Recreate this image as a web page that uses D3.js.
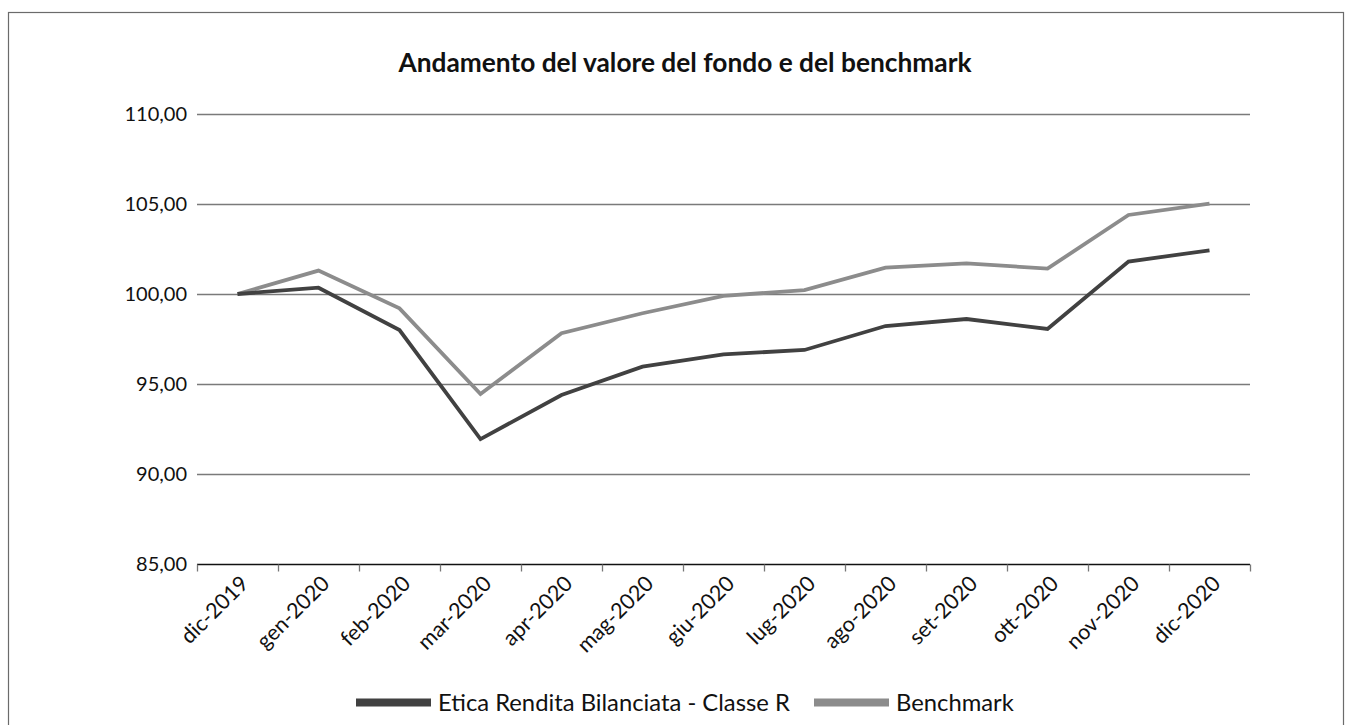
<!DOCTYPE html>
<html>
<head>
<meta charset="utf-8">
<script src="https://cdn.jsdelivr.net/npm/d3@7"></script>
<style>
  html, body { margin: 0; padding: 0; background: #fff; }
  svg { display: block; font-family: Lato, "Open Sans", sans-serif; }
</style>
</head>
<body>
<svg id="chart" width="1352" height="725"></svg>
<script>
const categories = ["dic-2019","gen-2020","feb-2020","mar-2020","apr-2020","mag-2020","giu-2020","lug-2020","ago-2020","set-2020","ott-2020","nov-2020","dic-2020"];
const fondo = [100.00, 100.35, 98.00, 91.94, 94.39, 95.96, 96.65, 96.89, 98.22, 98.61, 98.06, 101.80, 102.43];
const benchmark = [100.00, 101.30, 99.20, 94.44, 97.82, 98.93, 99.89, 100.22, 101.46, 101.70, 101.41, 104.39, 105.02];
const yTicks = [85, 90, 95, 100, 105, 110];
const seriesNames = ["Etica Rendita Bilanciata - Classe R", "Benchmark"];
const title = "Andamento del valore del fondo e del benchmark";

(function () {
const svg = d3.select("#chart");
const pLeft = 197, pRight = 1250, pTop = 114, pBottom = 564;

// outer border
svg.append("rect").attr("x", 8.5).attr("y", 12.5).attr("width", 1335).attr("height", 760)
  .attr("fill", "none").attr("stroke", "#6b6b6b").attr("stroke-width", 1.2);

const x = d3.scaleBand().domain(categories).range([pLeft, pRight]).paddingInner(0).paddingOuter(0);
const y = d3.scaleLinear().domain([85, 110]).range([pBottom, pTop]);
const fmt = v => d3.format(".2f")(v).replace(".", ",");

// gridlines
svg.append("g").selectAll("line").data(yTicks.filter(t => t !== 85)).join("line")
  .attr("x1", pLeft).attr("x2", pRight)
  .attr("y1", d => Math.round(y(d)) + 0.5).attr("y2", d => Math.round(y(d)) + 0.5)
  .attr("stroke", "#7a7a7a").attr("stroke-width", 1.3);

// y labels
svg.append("g").selectAll("text").data(yTicks).join("text")
  .attr("x", pLeft - 10).attr("y", d => y(d)).attr("dy", "0.35em")
  .attr("text-anchor", "end").attr("font-size", 20).attr("fill", "#111")
  .text(fmt);

// x axis
const xAxis = svg.append("g").attr("transform", `translate(0,${Math.round(pBottom) + 0.5})`);
xAxis.append("line").attr("x1", pLeft).attr("x2", pRight).attr("stroke", "#111").attr("stroke-width", 1.3);
const boundaries = categories.map(c => x(c)).concat([x(categories[categories.length - 1]) + x.bandwidth()]);
xAxis.selectAll("line.tick").data(boundaries).join("line").attr("class", "tick")
  .attr("x1", d => Math.round(d) + 0.5).attr("x2", d => Math.round(d) + 0.5)
  .attr("y1", 0).attr("y2", 7).attr("stroke", "#777").attr("stroke-width", 1.3);
xAxis.selectAll("text").data(categories).join("text")
  .attr("transform", d => `translate(${x(d) + x.bandwidth() / 2 + 7},${15}) rotate(-45)`)
  .attr("text-anchor", "end").attr("dy", "0.35em")
  .attr("font-size", 21.5).attr("fill", "#111")
  .text(d => d);

// lines
const line = d3.line().x((d, i) => x(categories[i]) + x.bandwidth() / 2).y(d => y(d));
svg.append("path").datum(benchmark).attr("d", line)
  .attr("fill", "none").attr("stroke", "#8c8c8c").attr("stroke-width", 3.8).attr("stroke-linejoin", "miter");
svg.append("path").datum(fondo).attr("d", line)
  .attr("fill", "none").attr("stroke", "#414141").attr("stroke-width", 3.8).attr("stroke-linejoin", "miter");

// title
svg.append("text").attr("x", 685).attr("y", 72).attr("text-anchor", "middle")
  .attr("font-size", 26.3).attr("font-weight", "bold").attr("fill", "#111").text(title);

// legend
const legendColors = ["#414141", "#8c8c8c"];
const legendX = [356, 814];
const lg = svg.append("g");
seriesNames.forEach((name, i) => {
  lg.append("rect").attr("x", legendX[i]).attr("y", 698.5).attr("width", 75).attr("height", 8).attr("fill", legendColors[i]);
  lg.append("text").attr("x", legendX[i] + 82).attr("y", 711)
    .attr("font-size", 23.8).attr("fill", "#111").text(name);
});
})();
</script>
</body>
</html>
